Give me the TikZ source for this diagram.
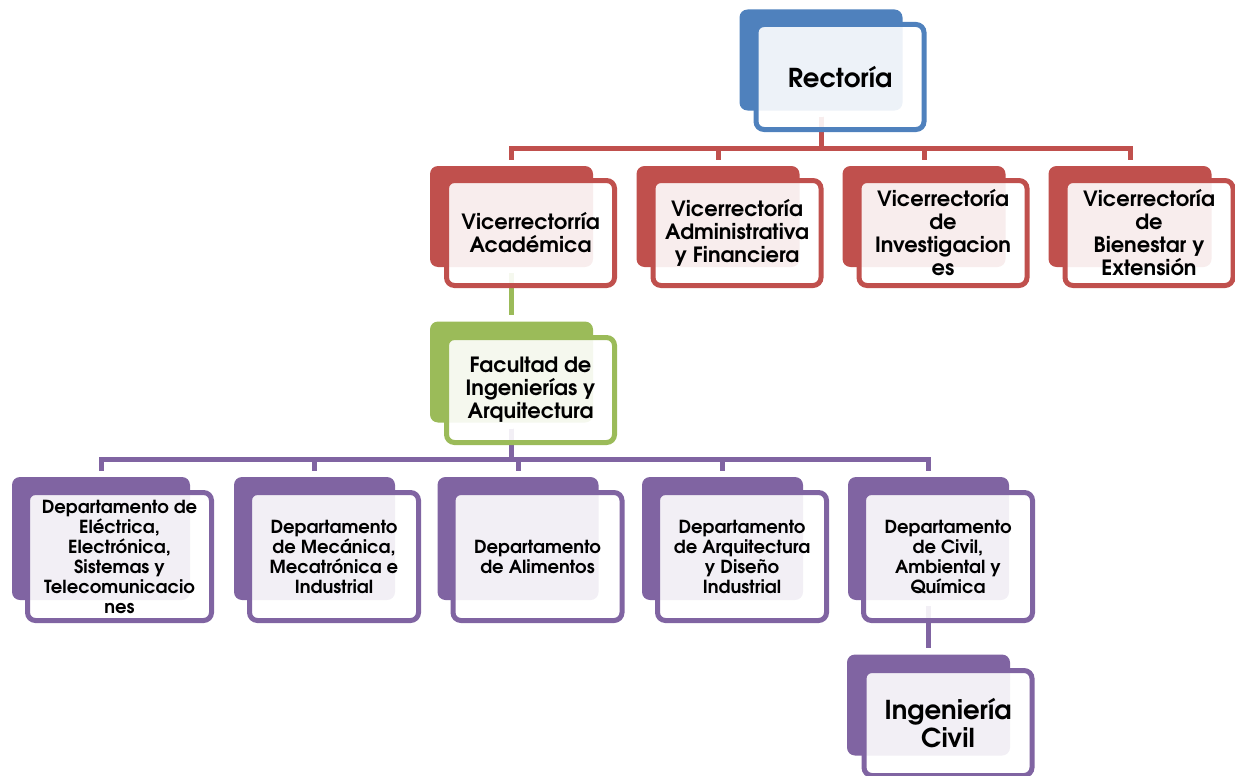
\documentclass[tikz,border=0pt]{standalone}
\usepackage{fontspec}
\setmainfont{texgyreadventor}[Extension=.otf,UprightFont=*-regular,BoldFont=*-bold,ItalicFont=*-italic,BoldItalicFont=*-bolditalic]
\usetikzlibrary{calc}
\pgfdeclarelayer{bg}
\pgfsetlayers{bg,main}

\definecolor{cBlue}{HTML}{4F81BD}
\definecolor{cRed}{HTML}{C0504D}
\definecolor{cGreen}{HTML}{9BBB59}
\definecolor{cPurple}{HTML}{8064A2}

\newcommand\fntTop{\fontsize{26pt}{28pt}\selectfont\bfseries}
\newcommand\fntMid{\fontsize{21pt}{23pt}\selectfont\bfseries}
\newcommand\fntDep{\fontsize{18pt}{20pt}\selectfont\bfseries}

\tikzset{
  backbox/.style={draw=none, fill=#1, rounded corners=8pt, inner sep=0pt,
    minimum width=163pt, minimum height=101pt},
  frontbox/.style={draw=#1, line width=5pt, fill=white, fill opacity=0.9,
    text opacity=1, rounded corners=8pt, inner sep=0pt, align=center,
    minimum width=168pt, minimum height=105pt, font=\fntMid},
  depback/.style={backbox=#1, minimum width=161pt, minimum height=123pt},
  depfront/.style={frontbox=#1, minimum width=169pt, minimum height=128pt, font=\fntDep},
  conn/.style={draw=#1, line width=5pt},
}

\begin{document}
\begin{tikzpicture}[x=1pt,y=-1pt]
\useasboundingbox (0,0) rectangle (1235,776);

% top level
\node[backbox=cBlue] (rect-b) at (821,60) {};
\node[frontbox=cBlue, font=\fntTop] (rect) at (840,77) {Rectoría};

% vice-rectorates
\node[backbox=cRed] (va-b) at (511.5,216.5) {};
\node[frontbox=cRed] (va) at (530.5,233) {Vicerrectorría\\Académica};
\node[backbox=cRed] (vb-b) at (718,216.5) {};
\node[frontbox=cRed] (vb) at (737,233) {Vicerrectoría\\Administrativa\\y Financiera};
\node[backbox=cRed] (vc-b) at (924,216.5) {};
\node[frontbox=cRed] (vc) at (943,233) {Vicerrectoría\\de\\Investigacion\\es};
\node[backbox=cRed] (vd-b) at (1130,216.5) {};
\node[frontbox=cRed] (vd) at (1149,233) {Vicerrectoría\\de\\Bienestar y\\Extensión};

% faculty
\node[backbox=cGreen] (fac-b) at (511.5,372) {};
\node[frontbox=cGreen] (fac) at (530.5,390) {Facultad de\\Ingenierías y\\Arquitectura};

% departments
\node[depback=cPurple, minimum width=178pt] (dA-b) at (101,538.5) {};
\node[depfront=cPurple, minimum width=184pt] (dA) at (119.5,556.5)
  {Departamento de\\Eléctrica,\\Electrónica,\\Sistemas y\\Telecomunicacio\\nes};
\node[depback=cPurple] (dB-b) at (314.5,538.5) {};
\node[depfront=cPurple] (dB) at (334,556.5) {Departamento\\de Mecánica,\\Mecatrónica e\\Industrial};
\node[depback=cPurple] (dC-b) at (518,538.5) {};
\node[depfront=cPurple] (dC) at (537.5,556.5) {Departamento\\de Alimentos};
\node[depback=cPurple] (dD-b) at (722.5,538.5) {};
\node[depfront=cPurple] (dD) at (742,556.5) {Departamento\\de Arquitectura\\y Diseño\\Industrial};
\node[depback=cPurple] (dE-b) at (928.5,538.5) {};
\node[depfront=cPurple] (dE) at (948,556.5) {Departamento\\de Civil,\\Ambiental y\\Química};

% programme
\node[backbox=cPurple] (civ-b) at (928.5,705) {};
\node[frontbox=cPurple, font=\fntTop] (civ) at (948,723) {Ingeniería\\Civil};

% connectors, kept underneath the boxes
\begin{pgfonlayer}{bg}
  \coordinate (busR) at (0,148);
  \coordinate (busP) at (0,459);
  \foreach \c in {va,vb,vc,vd}
    \draw[conn=cRed] ([yshift=-6pt]rect-b.south) |- (busR -| \c-b.north) -- ([yshift=6pt]\c-b.north);
  \draw[conn=cGreen] ([yshift=-6pt]va-b.south) -- ([yshift=6pt]fac-b.north);
  \foreach \c in {dA,dB,dC,dD,dE}
    \draw[conn=cPurple] ([yshift=-6pt]fac-b.south) |- (busP -| \c-b.north) -- ([yshift=6pt]\c-b.north);
  \draw[conn=cPurple] ([yshift=-6pt]dE-b.south) -- ([yshift=6pt]civ-b.north);
\end{pgfonlayer}
\end{tikzpicture}
\end{document}
